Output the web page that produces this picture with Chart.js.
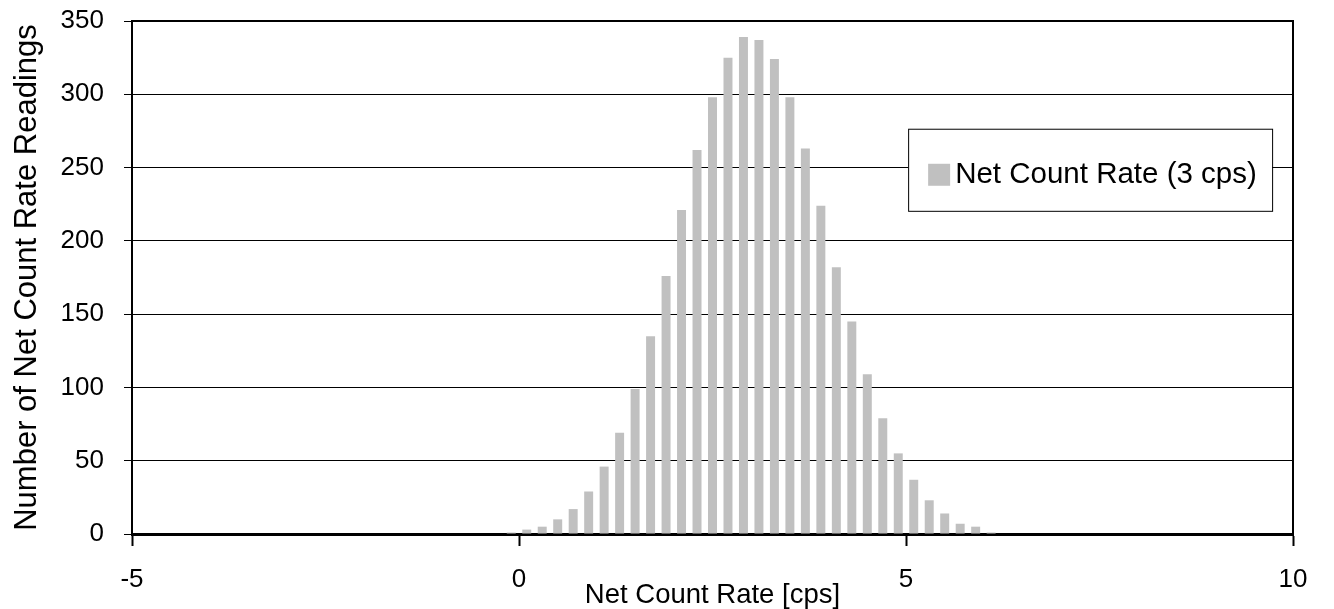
<!DOCTYPE html>
<html>
<head>
<meta charset="utf-8">
<script src="https://cdn.jsdelivr.net/npm/chart.js@4.4.1/dist/chart.umd.min.js"></script>
<style>
  html, body { margin: 0; padding: 0; background: #fff; }
  #wrap { width: 1334px; height: 609px; }
</style>
</head>
<body>
<div id="wrap"><canvas id="chart"></canvas></div>
<script>
// histogram of net count rate readings, bins 0.2 cps wide
const binCenters = [-0.1, 0.1, 0.3, 0.5, 0.7, 0.9, 1.1, 1.3, 1.5, 1.7, 1.9, 2.1, 2.3, 2.5, 2.7, 2.9,
                    3.1, 3.3, 3.5, 3.7, 3.9, 4.1, 4.3, 4.5, 4.7, 4.9, 5.1, 5.3, 5.5, 5.7, 5.9, 6.1];
const readings = [1, 3, 5, 10, 17, 29, 46, 69, 99, 135, 176, 221, 262, 298, 325, 339,
                  337, 324, 298, 263, 224, 182, 145, 109, 79, 55, 37, 23, 14, 7, 5, 1];
const seriesLabel = 'Net Count Rate (3 cps)';
const xTitle = 'Net Count Rate [cps]';
const yTitle = 'Number of Net Count Rate Readings';

const FONT = 'Liberation Sans, Arial, sans-serif';
const BAR_GREY = '#c0c0c0';

// frame round the plot area + legend box like the excel one
const framePlugin = {
  id: 'frame',
  afterDatasetsDraw(chart) {
    const {ctx, chartArea: a} = chart;
    ctx.save();
    ctx.strokeStyle = '#000';
    ctx.lineWidth = 2;
    ctx.beginPath();
    ctx.moveTo(a.left, a.top);
    ctx.lineTo(a.right, a.top);
    ctx.lineTo(a.right, a.bottom);
    ctx.stroke();
    ctx.restore();
  },
  afterDraw(chart) {
    const {ctx, chartArea: a} = chart;
    const ds = chart.data.datasets[0];
    const w = a.right - a.left, h = a.bottom - a.top;
    const bx = a.left + w * 0.6685, by = a.top + h * 0.21;
    const bw = w * 0.3135, bh = h * 0.16;
    ctx.save();
    ctx.fillStyle = '#fff';
    ctx.fillRect(bx, by, bw, bh);
    ctx.strokeStyle = '#000';
    ctx.lineWidth = 1;
    ctx.strokeRect(bx + 0.5, by + 0.5, bw, bh);
    ctx.fillStyle = ds.backgroundColor;
    ctx.fillRect(bx + 20, by + bh / 2 - 6, 22, 22);
    ctx.fillStyle = '#000';
    ctx.font = '29.5px ' + FONT;
    ctx.textBaseline = 'middle';
    ctx.fillText(ds.label, bx + 47, by + bh / 2 + 5);
    ctx.restore();
  }
};

new Chart(document.getElementById('chart'), {
  type: 'bar',
  data: {
    datasets: [{
      label: seriesLabel,
      data: binCenters.map((x, i) => ({x: x, y: readings[i]})),
      backgroundColor: BAR_GREY,
      borderWidth: 0,
      categoryPercentage: 1,
      barPercentage: 0.58
    }]
  },
  options: {
    responsive: true,
    maintainAspectRatio: false,
    animation: false,
    layout: { padding: { left: 9, top: 21, right: 41, bottom: 0 } },
    plugins: { legend: { display: false }, tooltip: { enabled: false } },
    scales: {
      x: {
        type: 'linear',
        min: -5, max: 10,
        offset: false,
        ticks: { stepSize: 5, color: '#000', padding: 18, maxRotation: 0,
                 font: { family: FONT, size: 26 } },
        grid: { offset: false, drawOnChartArea: false, drawTicks: true,
                tickLength: 12, tickColor: '#000', tickWidth: 2 },
        border: { display: true, color: '#000', width: 3 },
        title: { display: true, text: xTitle, color: '#000',
                 font: { family: FONT, size: 27.5 }, padding: { top: -16, bottom: -3 } },
        afterFit(s) { s.height = 75; s.paddingLeft = 0; s.paddingRight = 0; }
      },
      y: {
        min: 0, max: 350,
        ticks: { stepSize: 50, color: '#000', padding: 20,
                 font: { family: FONT, size: 26 } },
        grid: { color: '#000', lineWidth: 1, tickLength: 8, tickColor: '#000' },
        border: { display: true, color: '#000', width: 2 },
        title: { display: true, text: yTitle, color: '#000',
                 font: { family: FONT, size: 31 }, padding: { top: 0, bottom: 15 } },
        afterFit(s) { s.width = 123; s.paddingTop = 0; s.paddingBottom = 0; }
      }
    }
  },
  plugins: [framePlugin]
});
</script>
</body>
</html>
